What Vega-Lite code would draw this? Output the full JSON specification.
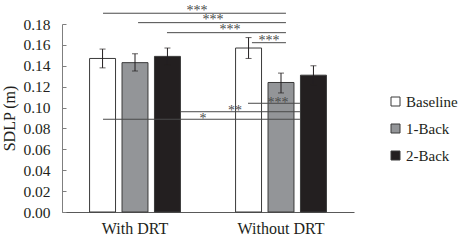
{
  "$schema": "https://vega.github.io/schema/vega-lite/v6.json",
  "autosize": {"type": "none"},
  "width": 292,
  "height": 188,
  "padding": {"left": 62, "top": 24, "right": 111, "bottom": 31},
  "background": "#ffffff",
  "config": {
    "view": {"stroke": null},
    "font": "Liberation Serif",
    "axis": {"labelFont": "Liberation Serif", "titleFont": "Liberation Serif", "labelColor": "#231f20", "titleColor": "#231f20", "grid": false},
    "axisY": {"tickCount": 10, "format": ".2f", "labelOverlap": false, "labelFontSize": 15.5, "tickSize": -4, "labelPadding": 16,
              "domainColor": "#7f7f7f", "tickColor": "#7f7f7f", "titleFontSize": 16, "titleFontWeight": "normal", "titlePadding": 5}
  },
  "datasets": {
    "bars": [
      {"cond": "With DRT", "task": "Baseline", "mean": 0.147, "lo": 0.138, "hi": 0.156},
      {"cond": "With DRT", "task": "1-Back", "mean": 0.143, "lo": 0.135, "hi": 0.1515},
      {"cond": "With DRT", "task": "2-Back", "mean": 0.149, "lo": 0.141, "hi": 0.157},
      {"cond": "Without DRT", "task": "Baseline", "mean": 0.157, "lo": 0.147, "hi": 0.167},
      {"cond": "Without DRT", "task": "1-Back", "mean": 0.124, "lo": 0.114, "hi": 0.133},
      {"cond": "Without DRT", "task": "2-Back", "mean": 0.131, "lo": 0.122, "hi": 0.140}
    ],
    "sig": [
      {"label": "***", "start": 0.281, "end": 1.534, "lineY": 0.1903, "textX": 0.925, "textY": 0.1953},
      {"label": "***", "start": 0.521, "end": 1.534, "lineY": 0.1813, "textX": 1.034, "textY": 0.1867},
      {"label": "***", "start": 0.719, "end": 1.534, "lineY": 0.1717, "textX": 1.151, "textY": 0.1771},
      {"label": "***", "start": 1.301, "end": 1.534, "lineY": 0.1621, "textX": 1.418, "textY": 0.1666},
      {"label": "***", "start": 1.274, "end": 1.630, "lineY": 0.1041, "textX": 1.479, "textY": 0.1072},
      {"label": "**", "start": 0.815, "end": 1.630, "lineY": 0.0960, "textX": 1.185, "textY": 0.0996},
      {"label": "*", "start": 0.281, "end": 1.630, "lineY": 0.0888, "textX": 0.966, "textY": 0.0919}
    ]
  },
  "layer": [
    {
      "data": {"name": "bars"},
      "encoding": {
        "x": {"field": "cond", "type": "nominal", "sort": ["With DRT", "Without DRT"],
              "scale": {"paddingInner": 0, "paddingOuter": 0},
              "axis": {"title": null, "labelAngle": 0, "labelFontSize": 16, "ticks": false, "labelPadding": 8, "domainColor": "#595959"}},
        "xOffset": {"field": "task", "type": "nominal", "sort": ["Baseline", "1-Back", "2-Back"],
                    "scale": {"paddingInner": 0.2, "paddingOuter": 0.85}}
      },
      "layer": [
        {
          "mark": {"type": "bar", "stroke": "#3a3a3a", "strokeWidth": 1},
          "encoding": {
            "y": {"field": "mean", "type": "quantitative",
                  "scale": {"domain": [0, 0.18], "nice": false},
                  "axis": {"title": "SDLP (m)"}},
            "fill": {"field": "task", "type": "nominal", "sort": ["Baseline", "1-Back", "2-Back"],
                     "scale": {"domain": ["Baseline", "1-Back", "2-Back"], "range": ["#ffffff", "#939598", "#231f20"]},
                     "legend": {"title": null, "orient": "none", "legendX": 326, "legendY": 70,
                                "symbolType": "square", "symbolSize": 81, "symbolStrokeColor": "#3a3a3a", "symbolStrokeWidth": 1,
                                "labelFont": "Liberation Serif", "labelFontSize": 15, "labelColor": "#231f20", "labelOffset": 3, "rowPadding": 11}}
          }
        },
        {
          "mark": {"type": "rule", "color": "#231f20", "strokeWidth": 1},
          "encoding": {
            "y": {"field": "lo", "type": "quantitative"},
            "y2": {"field": "hi"}
          }
        },
        {
          "mark": {"type": "tick", "color": "#231f20", "size": 6, "thickness": 1},
          "encoding": {"y": {"field": "lo", "type": "quantitative"}}
        },
        {
          "mark": {"type": "tick", "color": "#231f20", "size": 6, "thickness": 1},
          "encoding": {"y": {"field": "hi", "type": "quantitative"}}
        }
      ]
    },
    {
      "data": {"name": "sig"},
      "layer": [
        {
          "mark": {"type": "rule", "color": "#4a4a4a", "strokeWidth": 1},
          "encoding": {
            "x": {"field": "start", "type": "quantitative", "scale": {"domain": [0, 2], "nice": false, "zero": false}, "axis": null},
            "x2": {"field": "end"},
            "y": {"field": "lineY", "type": "quantitative"}
          }
        },
        {
          "mark": {"type": "text", "fill": "#4a4a4a", "font": "Liberation Serif", "fontSize": 14, "baseline": "middle", "align": "center", "dy": 3},
          "encoding": {
            "x": {"field": "textX", "type": "quantitative", "axis": null},
            "y": {"field": "textY", "type": "quantitative"},
            "text": {"field": "label"}
          }
        }
      ]
    }
  ],
  "resolve": {"scale": {"x": "independent"}, "axis": {"x": "independent"}}
}
